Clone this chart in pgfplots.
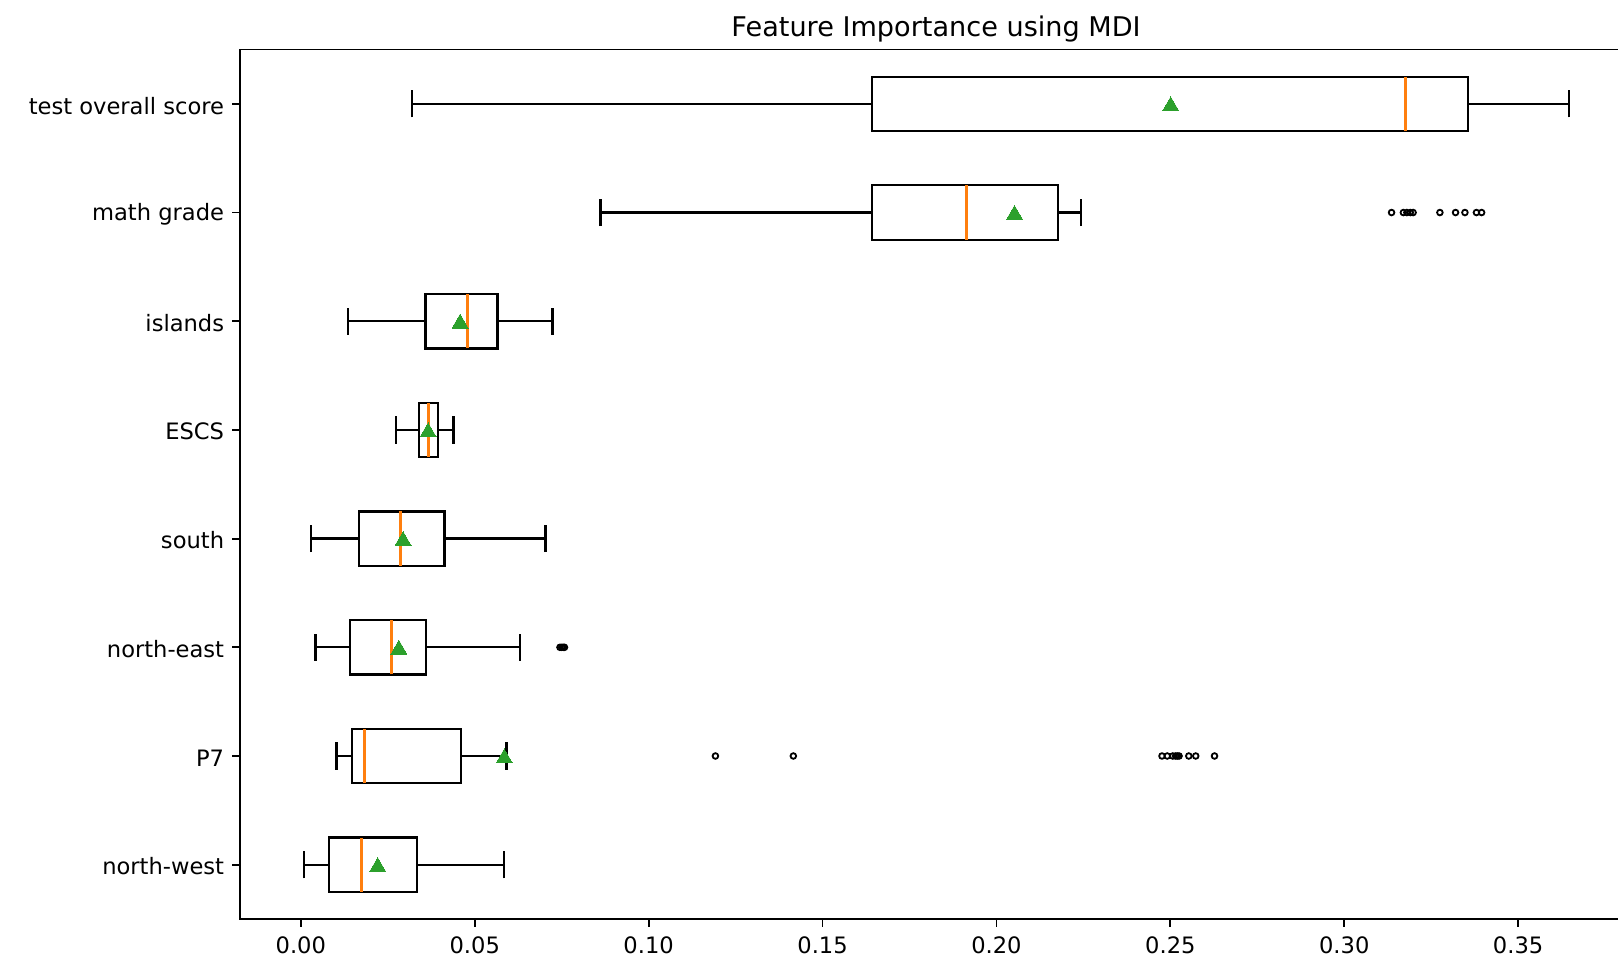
\documentclass[border=0pt]{standalone}
\usepackage{fontspec}
\setmainfont{DejaVu Sans}
\usepackage{pgfplots}
\pgfplotsset{compat=1.18}
\usepgfplotslibrary{statistics}
\definecolor{mplorange}{HTML}{FF7F0E}
\definecolor{mplgreen}{HTML}{2CA02C}
\begin{document}
\begin{tikzpicture}
\begin{axis}[
  name=ax,
  scale only axis,
  width=616.1pt, height=384.8pt,
  xmin=-0.0175, xmax=0.3828,
  ymin=0.5, ymax=8.5,
  axis line style={line width=0.8pt, black},
  tick align=outside,
  tick pos=left,
  major tick length=3.5pt,
  tick style={black, line width=0.8pt},
  xtick={0,0.05,0.10,0.15,0.20,0.25,0.30,0.35},
  ytick={1,2,3,4,5,6,7,8},
  yticklabels={north-west,P7,north-east,south,ESCS,islands,math grade,test overall score},
  xticklabel style={/tikz/yshift=-1pt, /pgf/number format/.cd, fixed, fixed zerofill, precision=2, assume math mode=true},
  yticklabel style={/tikz/yshift=-0.8pt},
  tick label style={font=\fontsize{10}{12}\selectfont},
  title={Feature Importance using MDI},
  title style={font=\fontsize{12}{14}\selectfont, at={(0.5,1)}, anchor=base, yshift=-0.3pt},
  boxplot/draw direction=x,
  boxplot/box extend=0.5,
  boxplot/whisker extend=0.25,
  boxplot/every box/.style={draw=black, line width=1pt},
  boxplot/every whisker/.style={draw=black, line width=1pt},
  boxplot/every median/.style={draw=mplorange, line width=1.2pt},
]
% north-west
\addplot[black, mark=o, mark size=1.25pt, mark options={line width=0.8pt},
  boxplot prepared={draw position=1, lower whisker=0.00096, lower quartile=0.00815, median=0.01744, upper quartile=0.03335, upper whisker=0.05845}]
  coordinates {};
% P7
\addplot[black, mark=o, mark size=1.25pt, mark options={line width=0.8pt},
  boxplot prepared={draw position=2, lower whisker=0.01026, lower quartile=0.01476, median=0.0182, upper quartile=0.0460, upper whisker=0.0591}]
  table[row sep=\\, y index=0] {data\\ 0.1192\\ 0.1416\\ 0.2476\\ 0.2491\\ 0.2507\\ 0.2515\\ 0.2520\\ 0.2525\\ 0.2553\\ 0.2573\\ 0.2627\\};
% north-east
\addplot[black, mark=o, mark size=1.25pt, mark options={line width=0.8pt},
  boxplot prepared={draw position=3, lower whisker=0.00422, lower quartile=0.01409, median=0.02607, upper quartile=0.03594, upper whisker=0.06297}]
  table[row sep=\\, y index=0] {data\\ 0.0745\\ 0.0750\\ 0.0755\\ 0.0758\\};
% south
\addplot[black, mark=o, mark size=1.25pt, mark options={line width=0.8pt},
  boxplot prepared={draw position=4, lower whisker=0.00297, lower quartile=0.01677, median=0.02875, upper quartile=0.0413, upper whisker=0.07035}]
  coordinates {};
% ESCS
\addplot[black, mark=o, mark size=1.25pt, mark options={line width=0.8pt},
  boxplot prepared={draw position=5, lower whisker=0.0274, lower quartile=0.0339, median=0.0367, upper quartile=0.0395, upper whisker=0.0439}]
  coordinates {};
% islands
\addplot[black, mark=o, mark size=1.25pt, mark options={line width=0.8pt},
  boxplot prepared={draw position=6, lower whisker=0.01351, lower quartile=0.03584, median=0.04792, upper quartile=0.05655, upper whisker=0.07237}]
  coordinates {};
% math grade
\addplot[black, mark=o, mark size=1.25pt, mark options={line width=0.8pt},
  boxplot prepared={draw position=7, lower whisker=0.08617, lower quartile=0.16418, median=0.1913, upper quartile=0.2178, upper whisker=0.2244}]
  table[row sep=\\, y index=0] {data\\ 0.3136\\ 0.3170\\ 0.3180\\ 0.3190\\ 0.3198\\ 0.3275\\ 0.3320\\ 0.3347\\ 0.3380\\ 0.3395\\};
% test overall score
\addplot[black, mark=o, mark size=1.25pt, mark options={line width=0.8pt},
  boxplot prepared={draw position=8, lower whisker=0.03206, lower quartile=0.16418, median=0.3176, upper quartile=0.3356, upper whisker=0.3646}]
  coordinates {};
% means
\addplot[only marks, mark=triangle*, mark size=4.1pt, mark options={draw=mplgreen, fill=mplgreen, line width=0pt, yshift=-1pt}]
  coordinates {(0.0221,1) (0.0585,2) (0.02818,3) (0.0294,4) (0.0366,5) (0.0458,6) (0.2052,7) (0.2501,8)};
\end{axis}
\pgfresetboundingbox
\path[use as bounding box] ([xshift=-106.2pt, yshift=-18.1pt]ax.south west) rectangle ([xshift=609.8pt, yshift=406.7pt]ax.south west);
\end{tikzpicture}
\end{document}
